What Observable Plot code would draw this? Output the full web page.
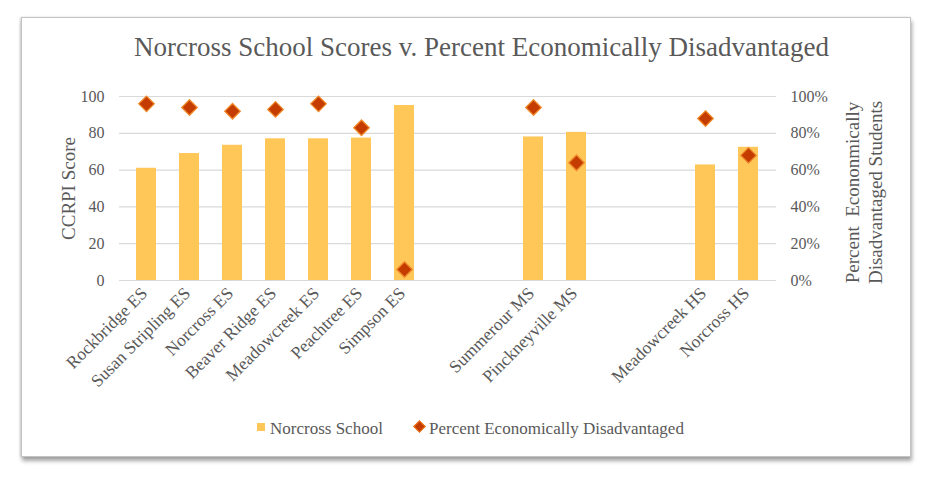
<!DOCTYPE html>
<html>
<head>
<meta charset="utf-8">
<script src="https://cdn.jsdelivr.net/npm/d3@7"></script>
<script src="https://cdn.jsdelivr.net/npm/@observablehq/plot@0.6"></script>
<style>
  html, body { margin: 0; padding: 0; background: #fff; }
  body { width: 943px; height: 481px; position: relative; overflow: hidden; font-family: "Liberation Serif", "Times New Roman", serif; color: #595959; }
  #box { position: absolute; left: 21px; top: 17px; width: 888px; height: 438px; border: 1.5px solid #c4c4c4; background: #fff; box-shadow: 1px 4px 4px rgba(0,0,0,0.35), -1px 0 2px rgba(0,0,0,0.15); }
  #title { position: absolute; left: 10px; width: 943px; top: 31px; text-align: center; font-family: "Liberation Serif", "Times New Roman", serif; font-size: 27px; line-height: 32px; color: #595959; }
  #chart { position: absolute; left: 0; top: 70px; }
  #legend { position: absolute; top: 419px; left: 0; width: 943px; font-family: "Liberation Serif", "Times New Roman", serif; font-size: 17px; color: #595959; }
  .lg { position: absolute; white-space: nowrap; line-height: 20px; font-family: "Liberation Serif", "Times New Roman", serif; }
  .sq { position: absolute; width: 8px; height: 8px; background: #FFC658; }
  .dm { position: absolute; width: 7px; height: 7px; background: #C43C00; border: 1px solid #F08020; transform: rotate(45deg); }
</style>
</head>
<body>
<div id="box"></div>
<div id="title">Norcross School Scores v. Percent Economically Disadvantaged</div>
<div id="chart"></div>
<div id="legend">
  <div class="sq" style="left:257px; top:4px;"></div>
  <div class="lg" style="left:270px; top:0px;">Norcross School</div>
  <div class="dm" style="left:415px; top:3px;"></div>
  <div class="lg" style="left:429px; top:0px;">Percent Economically Disadvantaged</div>
</div>
<script>
const categories = ["Rockbridge ES", "Susan Stripling ES", "Norcross ES", "Beaver Ridge ES", "Meadowcreek ES", "Peachtree ES", "Simpson ES", "Summerour MS", "Pinckneyville MS", "Meadowcreek HS", "Norcross HS"];
const scores = [61, 69, 73.5, 77, 77, 77.4, 95.1, 78, 80.5, 62.8, 72.4];
const pctDisadvantaged = [96, 94, 92, 93, 96, 83, 6, 94, 64, 88, 68];
const leftTicks = [0, 20, 40, 60, 80, 100];
const rightTickLabels = ["0%", "20%", "40%", "60%", "80%", "100%"];

const data = categories.map((name, i) => ({ name, score: scores[i], pct: pctDisadvantaged[i] }));

// band domain with two empty slots between school levels
const domain = [];
let gap = 0;
categories.forEach((c, i) => {
  if (i > 0 && c.slice(-2) !== categories[i - 1].slice(-2)) {
    domain.push("__gap" + (gap++));
    domain.push("__gap" + (gap++));
  }
  domain.push(c);
});

const font = '"Liberation Serif", "Times New Roman", serif';
const chart = Plot.plot({
  width: 943,
  height: 320,
  marginLeft: 119,
  marginRight: 167,
  marginTop: 26,
  marginBottom: 110,
  style: { fontFamily: font, fontSize: "16px", color: "#595959", background: "transparent" },
  x: { type: "band", domain, paddingInner: 0.53, paddingOuter: 0.265 },
  y: { domain: [0, 100] },
  marks: [
    Plot.gridY(leftTicks, { stroke: "#d9d9d9", strokeOpacity: 1, strokeWidth: 1.2 }),
    Plot.barY(data, { x: "name", y: "score", fill: "#FFC658" }),
    Plot.dot(data, { x: "name", y: "pct", symbol: "diamond2", r: 7, fill: "#C43C00", stroke: "#F08A2A", strokeWidth: 1.3 }),
    Plot.axisY(leftTicks, { anchor: "left", tickSize: 0, tickPadding: 15, label: null, fontSize: 16 }),
    Plot.axisY(leftTicks, { anchor: "right", tickSize: 0, tickPadding: 14, label: null, fontSize: 16, tickFormat: d => rightTickLabels[leftTicks.indexOf(d)] }),
    Plot.axisX(categories, { tickRotate: -45, tickSize: 0, tickPadding: 10, dx: -2, label: null, fontSize: 17.5 }),
    Plot.text(["CCRPI Score"], { frameAnchor: "left", textAnchor: "middle", dx: -51, rotate: -90, fontSize: 19, fill: "#595959" }),
    Plot.text(["Percent  Econonmically\nDisadvantaged Students"], { frameAnchor: "right", textAnchor: "middle", dx: 87, dy: 4, rotate: -90, fontSize: 19, lineHeight: 1.2, fill: "#595959" })
  ]
});
document.getElementById("chart").appendChild(chart);
</script>
</body>
</html>
